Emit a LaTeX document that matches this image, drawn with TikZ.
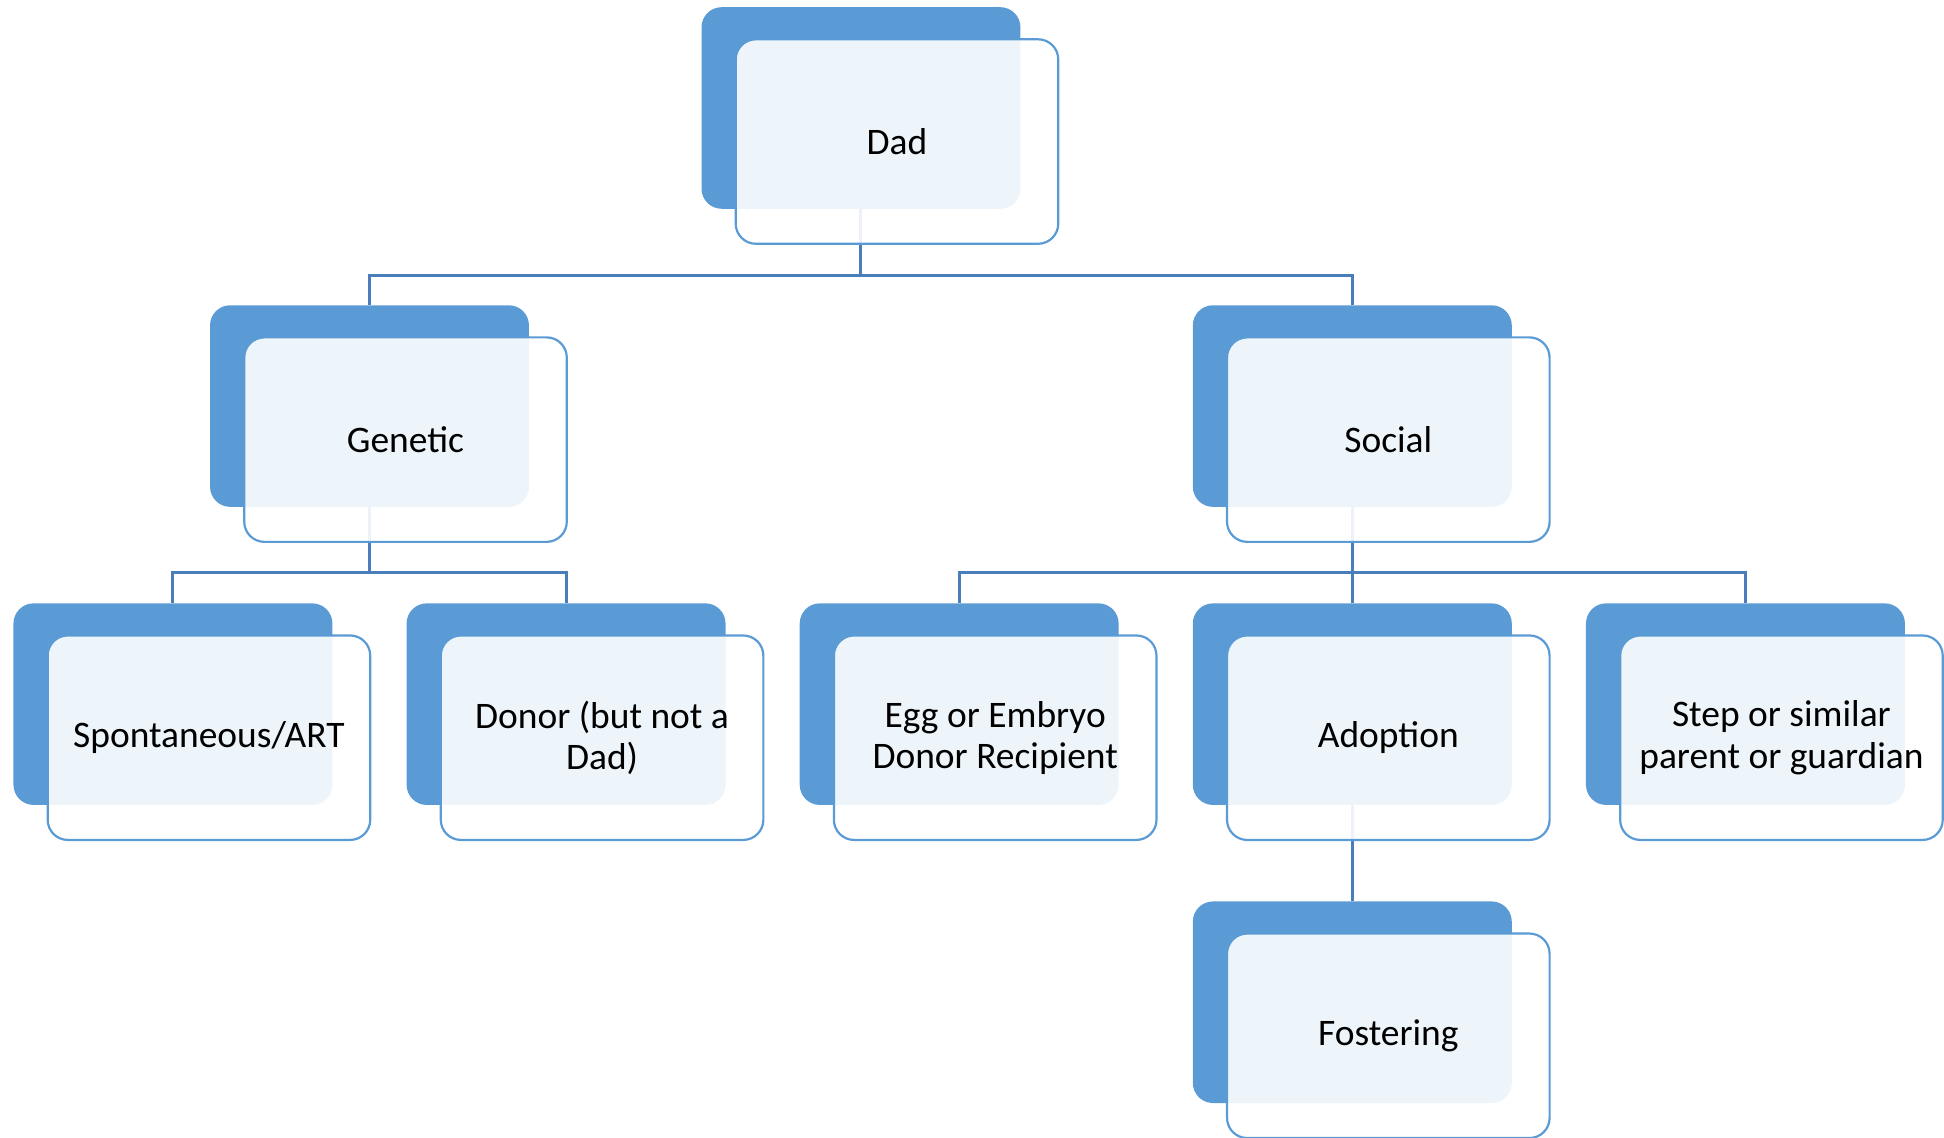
\documentclass[tikz,border=0pt]{standalone}
\usepackage{fontspec}
\setmainfont{Carlito}
\usetikzlibrary{calc}
\definecolor{boxblue}{HTML}{5B9BD5}
\definecolor{linkblue}{HTML}{4A7EBB}
\tikzset{
 backbox/.style={rectangle,rounded corners=.14in,fill=boxblue,minimum width=2.215in,minimum height=1.40in,inner sep=0},
 frontbox/.style={rectangle,rounded corners=.14in,draw=boxblue,line width=1.1pt,fill=white,fill opacity=.9,text opacity=1,
  minimum width=2.24in,minimum height=1.42in,inner sep=0,align=center,xshift=.25in,yshift=-.233in,
  font=\fontsize{18.8}{20.6}\selectfont},
 link/.style={draw=linkblue,line width=1.5pt}
}
\begin{document}
\begin{tikzpicture}[x=1in,y=1in]
\path[use as bounding box] (0,0) rectangle (13.5,7.896);
\coordinate (D) at (5.979,7.146);
\coordinate (G) at (2.566,5.076);
\coordinate (S) at (9.391,5.076);
\coordinate (SP) at (1.201,3.006);
\coordinate (DN) at (3.931,3.006);
\coordinate (EG) at (6.661,3.006);
\coordinate (AD) at (9.391,3.006);
\coordinate (ST) at (12.121,3.006);
\coordinate (FO) at (9.391,0.936);
\coordinate (bus1) at (0,5.986);
\coordinate (bus2) at (0,3.918);
\node[backbox] (dad-b) at (D) {};
\node[backbox] (gen-b) at (G) {};
\node[backbox] (soc-b) at (S) {};
\node[backbox] (spo-b) at (SP) {};
\node[backbox] (don-b) at (DN) {};
\node[backbox] (egg-b) at (EG) {};
\node[backbox] (ado-b) at (AD) {};
\node[backbox] (ste-b) at (ST) {};
\node[backbox] (fos-b) at (FO) {};
\draw[link] (dad-b.south) |- (gen-b.north |- bus1) -- (gen-b.north);
\draw[link] (dad-b.south) |- (soc-b.north |- bus1) -- (soc-b.north);
\draw[link] (gen-b.south) |- (spo-b.north |- bus2) -- (spo-b.north);
\draw[link] (gen-b.south) |- (don-b.north |- bus2) -- (don-b.north);
\draw[link] (soc-b.south) |- (egg-b.north |- bus2) -- (egg-b.north);
\draw[link] (soc-b.south) -- (ado-b.north);
\draw[link] (soc-b.south) |- (ste-b.north |- bus2) -- (ste-b.north);
\draw[link] (ado-b.south) -- (fos-b.north);
\node[frontbox] (dad) at (D) {Dad};
\node[frontbox] (gen) at (G) {Genetic};
\node[frontbox] (soc) at (S) {Social};
\node[frontbox] (spo) at (SP) {Spontaneous/ART};
\node[frontbox] (don) at (DN) {Donor (but not a\\Dad)};
\node[frontbox] (egg) at (EG) {Egg or Embryo\\Donor Recipient};
\node[frontbox] (ado) at (AD) {Adoption};
\node[frontbox] (ste) at (ST) {Step or similar\\parent or guardian};
\node[frontbox] (fos) at (FO) {Fostering};
\end{tikzpicture}
\end{document}
